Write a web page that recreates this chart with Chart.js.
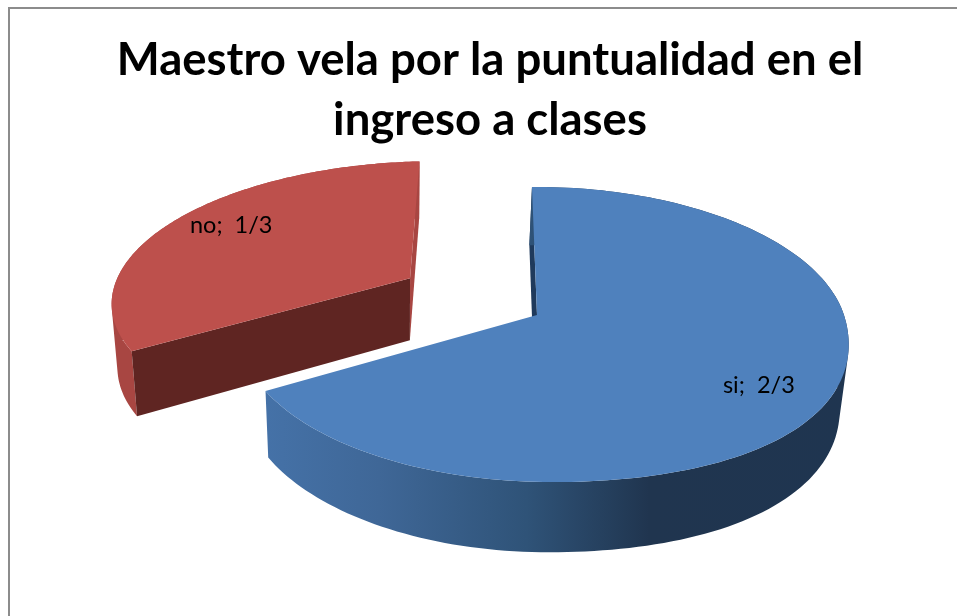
<!DOCTYPE html>
<html lang="es">
<head>
<meta charset="utf-8">
<title>Maestro vela por la puntualidad en el ingreso a clases</title>
<script src="https://cdn.jsdelivr.net/npm/chart.js@4"></script>
<style>
html,body{margin:0;padding:0;background:#fff;overflow:hidden}
#wrap{width:957px;height:616px;position:relative}
</style>
</head>
<body>
<div id="wrap"><canvas id="c" width="957" height="616"></canvas></div>
<script>
const categories = ['si', 'no'];
const seriesValues = [2, 1];
const valueLabels = ['2/3', '1/3'];
const titleLines = ['Maestro vela por la puntualidad en el', 'ingreso a clases'];
const explodeRatio = [0, 0.48];

const topColors = ['#4f81bd', '#bd504c'];
const wallColors = ['#1f3a5c', '#5f2522'];
const sliverColors = ['#1f3a5c', '#a84642'];
const labelNudge = [[2, 10], [8, -7]];

// projective view of the pie plane: unit disc -> page, one per slice
const views = [
  {a: 291, b: -65.3, c: 537, d: -5.7, e: 103.3, f: 315, g: -0.019, h: -0.1322, bulge: 0.03},
  {a: 304, b: -65.3, c: 537, d: -10, e: 100, f: 309, g: -0.019, h: -0.1322, bulge: 0}
];
function proj(H, u, v) {
  const w = H.g * u + H.h * v + 1;
  return [(H.a * u + H.b * v + H.c) / w, (H.d * u + H.e * v + H.f) / w];
}
function drop(p) {
  return [p[0] + (400 - p[0]) * 0.02, p[1] + 62 + (p[1] - 278) * 0.04];
}
function arcPts(H, a0, a1, ox, oy) {
  const pts = [], n = 160;
  for (let i = 0; i <= n; i++) {
    const t = a0 + (a1 - a0) * i / n;
    const c = Math.cos(t), s = Math.sin(t);
    const q = c > 0 && s > 0 ? Math.pow(2 * c * s, 2) : 0;
    const r = 1 + H.bulge * q;
    pts.push(proj(H, ox + c * r, oy + s * r));
  }
  return pts;
}
function addPoly(ctx, pts) {
  pts.forEach((p, i) => i ? ctx.lineTo(p[0], p[1]) : ctx.moveTo(p[0], p[1]));
  ctx.closePath();
}
function poly(ctx, pts) {
  ctx.beginPath();
  addPoly(ctx, pts);
}
function area(q) {
  let s = 0;
  q.forEach((p, i) => {
    const n = q[(i + 1) % q.length];
    s += p[0] * n[1] - n[0] * p[1];
  });
  return s;
}

const pie3d = {
  id: 'pie3d',
  beforeDraw(chart) {
    const ctx = chart.ctx;
    ctx.save();
    ctx.fillStyle = '#fff';
    ctx.fillRect(0, 0, chart.width, chart.height);
    ctx.strokeStyle = '#8c8c8c';
    ctx.lineWidth = 2;
    ctx.beginPath();
    ctx.moveTo(9, chart.height);
    ctx.lineTo(9, 8);
    ctx.lineTo(chart.width, 8);
    ctx.stroke();
    ctx.restore();
  },
  beforeDatasetDraw(chart, args) {
    const ctx = chart.ctx;
    const arcs = args.meta.data;
    ctx.save();
    // red slice behind, blue slice in front
    [1, 0].forEach(i => {
      const H = views[i];
      const {startAngle, endAngle} = arcs[i].getProps(['startAngle', 'endAngle'], true);
      const mid = (startAngle + endAngle) / 2;
      const ox = Math.cos(mid) * explodeRatio[i], oy = Math.sin(mid) * explodeRatio[i];
      const rim = arcPts(H, startAngle, endAngle, ox, oy);
      const apex = proj(H, ox, oy);
      const startP = proj(H, ox + Math.cos(startAngle), oy + Math.sin(startAngle));
      const endP = proj(H, ox + Math.cos(endAngle), oy + Math.sin(endAngle));
      // back cut wall (the one at twelve o'clock)
      const backP = i === 0 ? startP : endP;
      poly(ctx, [backP, apex, drop(apex), drop(backP)]);
      ctx.fillStyle = sliverColors[i];
      ctx.fill();
      // curved outer side: one path of equally wound quads, so no seams
      const g = ctx.createLinearGradient(262, 0, 849, 0);
      if (i === 0) {
        g.addColorStop(0, '#4572a8');
        g.addColorStop(0.2, '#3f6797');
        g.addColorStop(0.45, '#2f5378');
        g.addColorStop(0.66, '#20354f');
        g.addColorStop(1, '#1f3550');
      } else {
        g.addColorStop(0, '#a84642');
        g.addColorStop(1, '#a84642');
      }
      ctx.beginPath();
      for (let k = 0; k < rim.length - 1; k++) {
        const q = [rim[k], rim[k + 1], drop(rim[k + 1]), drop(rim[k])];
        addPoly(ctx, area(q) < 0 ? q.reverse() : q);
      }
      ctx.fillStyle = g;
      ctx.fill('nonzero');
      // front cut wall of the red slice sits over its side
      if (i === 1) {
        poly(ctx, [startP, apex, drop(apex), drop(startP)]);
        ctx.fillStyle = wallColors[i];
        ctx.fill();
      }
      // top face
      poly(ctx, [apex].concat(rim));
      ctx.fillStyle = topColors[i];
      ctx.fill();
    });
    // data labels
    ctx.fillStyle = '#000';
    ctx.font = '23.5px Lato';
    ctx.textAlign = 'center';
    ctx.textBaseline = 'middle';
    [0, 1].forEach(i => {
      const {startAngle, endAngle} = arcs[i].getProps(['startAngle', 'endAngle'], true);
      const mid = (startAngle + endAngle) / 2;
      const r = explodeRatio[i] + 0.78;
      const p = proj(views[i], Math.cos(mid) * r, Math.sin(mid) * r);
      ctx.fillText(categories[i] + ';  ' + valueLabels[i], p[0] + labelNudge[i][0], p[1] + labelNudge[i][1]);
    });
    ctx.restore();
    return false;
  }
};

new Chart(document.getElementById('c'), {
  type: 'pie',
  data: {
    labels: categories,
    datasets: [{data: seriesValues, backgroundColor: topColors, borderWidth: 0}]
  },
  options: {
    responsive: false,
    animation: false,
    layout: {padding: {left: 23}},
    plugins: {
      legend: {display: false},
      tooltip: {enabled: false},
      title: {
        display: true,
        text: titleLines,
        color: '#000',
        font: {family: 'Lato', weight: 'bold', size: 45.5, lineHeight: 1.32},
        padding: {top: 30, bottom: 10}
      }
    }
  },
  plugins: [pie3d]
});
</script>
</body>
</html>
